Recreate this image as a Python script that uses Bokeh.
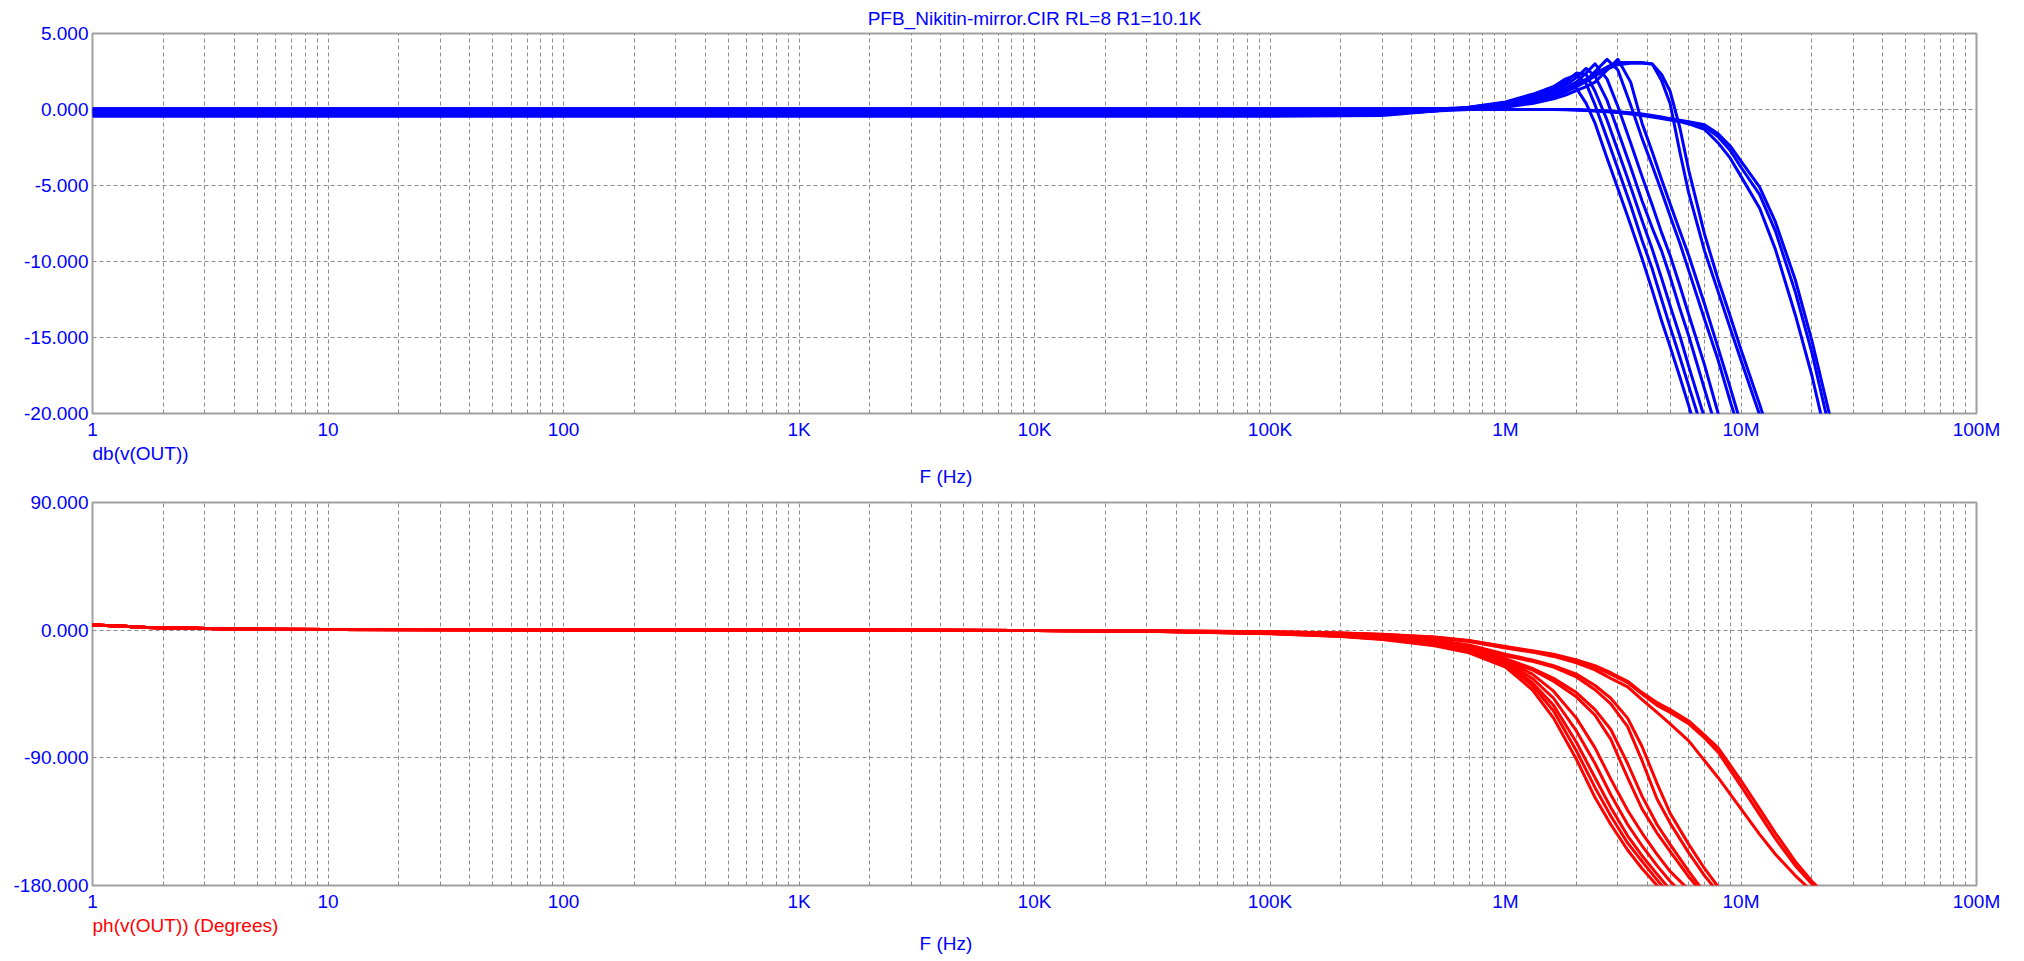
from bokeh.plotting import figure
from bokeh.models import Range1d, FixedTicker, PrintfTickFormatter, Title
from bokeh.layouts import column
from bokeh.embed import file_html
from bokeh.resources import INLINE

# ---------------- data ----------------
TITLE = "PFB_Nikitin-mirror.CIR RL=8 R1=10.1K"
X_MAJOR = [1, 10, 100, 1000, 1e4, 1e5, 1e6, 1e7, 1e8]
X_LABELS = ["1", "10", "100", "1K", "10K", "100K", "1M", "10M", "100M"]
X_MINOR = [k * d for d in X_MAJOR[:-1] for k in range(2, 10)]
MAG_TICKS = [-20, -15, -10, -5, 0, 5]
PH_TICKS = [-180, -90, 0, 90]

FREQ_MAG = [1, 1e5, 3e5, 5e5, 7e5, 1e6, 1.3e6, 1.6e6, 1.8e6, 2e6, 2.2e6, 2.4e6, 2.7e6, 3e6,
            3.4e6, 3.8e6, 4.2e6, 4.6e6, 5e6, 5.5e6, 6e6, 7e6, 8e6, 9e6, 10e6, 12e6, 14e6, 17e6,
            20e6, 25e6]

MAG_1 = [-0.45, -0.45, -0.4, -0.1, 0.15, 0.5, 1.0, 1.5, 2.0, 1.4, 0.4, -0.9, -3.2, -5.2, -7.6,
         -9.8, -11.9, -13.9, -15.6, -17.6, -19.5, -23.0, -26.2, -29.0, -31.5, -36, -40, -45, -49, -55]
MAG_2 = [-0.35, -0.35, -0.3, -0.1, 0.15, 0.45, 0.95, 1.5, 2.0, 2.3, 1.7, 0.3, -1.9, -3.9, -6.3,
         -8.6, -10.5, -12.5, -14.3, -16.3, -18.2, -21.5, -24.5, -27, -29.5, -34, -38, -43, -47, -53]
MAG_3 = [-0.25, -0.25, -0.2, -0.05, 0.1, 0.4, 0.85, 1.35, 1.8, 2.4, 2.3, 1.2, -0.7, -2.7, -5.1,
         -7.3, -9.2, -11.1, -12.9, -14.9, -16.9, -20.3, -23.3, -26, -28.5, -33, -37, -42, -46, -52]
MAG_4 = [-0.15, -0.15, -0.1, 0.0, 0.1, 0.35, 0.75, 1.2, 1.6, 2.1, 2.7, 2.2, 0.6, -1.4, -3.8,
         -6.0, -7.8, -9.3, -11.0, -13.1, -14.9, -18.4, -21.4, -24, -26.5, -31, -35, -40, -44, -50]
MAG_5 = [-0.05, -0.05, 0.0, 0.05, 0.1, 0.3, 0.65, 1.05, 1.4, 1.8, 2.4, 3.0, 2.0, 0.2, -2.2,
         -4.4, -6.3, -8.1, -9.6, -11.6, -13.5, -16.8, -20.0, -22.7, -25, -30, -34, -39, -43, -49]
MAG_6 = [0.05, 0.05, 0.05, 0.05, 0.1, 0.25, 0.5, 0.85, 1.15, 1.5, 1.9, 2.5, 3.3, 2.6, 0.3,
         -1.9, -3.7, -5.4, -7.0, -8.8, -10.6, -13.8, -16.5, -19.2, -21.5, -26, -30, -35, -39, -45]
MAG_7 = [-0.3, -0.3, -0.25, -0.05, 0.05, 0.15, 0.4, 0.7, 0.95, 1.25, 1.5, 1.8, 2.6, 3.3, 1.8,
         -0.9, -2.8, -4.6, -6.2, -8.0, -9.6, -12.8, -15.7, -18.3, -20.7, -25, -29, -34, -38, -44]
MAG_8 = [-0.2, -0.2, -0.15, 0.0, 0.1, 0.3, 0.6, 1.0, 1.3, 1.65, 2.0, 2.35, 2.8, 3.1, 3.1,
         3.1, 3.0, 1.9, 0.4, -2.8, -5.5, -9.3, -12.0, -14.4, -16.5, -20.1, -23.4, -28, -32, -38]
MAG_9 = [0.0, 0.0, 0.0, 0.05, 0.1, 0.25, 0.5, 0.9, 1.2, 1.5, 1.85, 2.2, 2.65, 2.95, 3.05,
         3.05, 3.0, 2.3, 1.2, -1.2, -4.0, -8.2, -11.2, -13.6, -15.8, -19.4, -22.7, -27.3, -31.3, -37.3]
MAG_10 = [-0.4, -0.4, -0.3, -0.1, 0.0, 0.0, 0.0, 0.0, -0.02, -0.04, -0.07, -0.1, -0.15, -0.2, -0.3,
          -0.4, -0.5, -0.6, -0.7, -0.8, -0.95, -1.3, -2.2, -3.2, -4.4, -6.5, -9.2, -13.5, -17.5, -24]
MAG_11 = [-0.1, -0.1, -0.05, 0.0, 0.0, 0.0, 0.0, 0.0, 0.0, -0.02, -0.05, -0.08, -0.12, -0.18, -0.26,
          -0.35, -0.45, -0.55, -0.65, -0.75, -0.85, -1.1, -1.8, -2.7, -3.8, -5.6, -8.0, -12.0, -16.0, -22.5]
MAG_12 = [0.05, 0.05, 0.05, 0.05, 0.02, 0.0, 0.0, 0.0, 0.0, -0.02, -0.04, -0.07, -0.1, -0.15, -0.22,
          -0.3, -0.4, -0.5, -0.6, -0.7, -0.8, -1.0, -1.6, -2.4, -3.4, -5.1, -7.4, -11.2, -15.2, -21.5]

FREQ_PH = [1, 1.3, 1.7, 4.1, 10, 1e3, 1e4, 3e4, 1e5, 2e5, 3e5, 5e5, 7e5, 1e6, 1.3e6, 1.6e6, 2e6,
           2.4e6, 2.8e6, 3.3e6, 3.8e6, 4.4e6, 5e6, 6e6, 7e6, 8e6, 10e6, 12e6, 14e6, 17e6, 20e6, 25e6]
PH_LOW = [3.7, 3.0, 1.9, 0.8, 0.4, 0.1, -0.3]

PH_1 = PH_LOW + [-0.8, -2.5, -4.5, -6.5, -11, -16, -26, -42, -62, -91, -118, -137, -155, -168, -180,
                 -190, -200, -208, -214, -222, -228, -233, -240, -245, -250]
PH_2 = PH_LOW + [-0.8, -2.4, -4.3, -6.2, -10.5, -15, -24, -39, -57, -85, -111, -131, -150, -163, -176,
                 -187, -198, -206, -212, -220, -226, -231, -238, -243, -248]
PH_3 = PH_LOW + [-0.7, -2.3, -4.1, -6, -10, -14.5, -23, -37, -53, -79, -104, -125, -145, -159, -172,
                 -183, -195, -203, -210, -218, -224, -229, -236, -241, -246]
PH_4 = PH_LOW + [-0.7, -2.2, -4, -5.8, -9.5, -14, -22, -34, -48, -71, -94, -116, -137, -152, -166,
                 -177, -190, -200, -207, -216, -222, -227, -234, -239, -244]
PH_5 = PH_LOW + [-0.6, -2.1, -3.8, -5.5, -9, -13, -21, -31, -43, -62, -83, -105, -127, -143, -158,
                 -170, -183, -193, -200, -210, -217, -223, -230, -236, -242]
PH_6 = PH_LOW + [-0.6, -2.0, -3.6, -5.2, -8.5, -12, -21, -28, -36, -47, -60, -77, -104, -126, -143,
                 -156, -174, -187, -196, -207, -214, -220, -228, -234, -240]
PH_7 = PH_LOW + [-0.5, -1.9, -3.4, -5.0, -8, -11.5, -20, -27, -34, -44, -56, -70, -94, -117, -137,
                 -151, -170, -185, -195, -206, -213, -219, -227, -233, -239]
PH_8 = PH_LOW + [-0.5, -1.8, -3.2, -4.5, -7.5, -11, -18, -22, -26, -33, -42, -52, -68, -92, -119,
                 -136, -157, -173, -185, -200, -208, -215, -224, -230, -237]
PH_9 = PH_LOW + [-0.5, -1.7, -3.0, -4.3, -7, -10.5, -17, -21, -25, -31, -39, -48, -62, -82, -108,
                 -129, -151, -168, -181, -198, -206, -213, -222, -229, -236]
PH_10 = PH_LOW + [-0.4, -1.3, -2.2, -3.2, -5.5, -8, -12.5, -15.5, -18.5, -23, -28, -34, -40, -49, -58,
                  -66, -78, -92, -104, -126, -144, -158, -173, -184, -198]
PH_11 = PH_LOW + [-0.4, -1.2, -2.0, -3.0, -5, -7.5, -12, -15, -17.5, -22, -26, -31, -37, -45, -53,
                  -58, -66, -76, -86, -110, -130, -147, -166, -179, -195]
PH_12 = PH_LOW + [-0.4, -1.2, -2.0, -2.9, -4.8, -7.2, -11.5, -14.5, -17, -21, -25, -30, -36, -44, -51,
                  -56, -64, -74, -83, -106, -126, -143, -163, -177, -193]

MAG_SERIES = [MAG_1, MAG_2, MAG_3, MAG_4, MAG_5, MAG_6, MAG_7, MAG_8, MAG_9, MAG_10, MAG_11, MAG_12]
PH_SERIES = [PH_1, PH_2, PH_3, PH_4, PH_5, PH_6, PH_7, PH_8, PH_9, PH_10, PH_11, PH_12]

# ---------------- style ----------------
FONT = "Liberation Sans"
FS = "19px"
BLUE = "#0000ff"
RED = "#ff0000"
GRID = "#8c8c8c"
FRAME = "#a0a0a0"


def make_fig(height, top, bottom, yr, yticks, trace_label, trace_color, f_standoff):
    p = figure(width=2024, height=height, x_axis_type="log",
               x_range=Range1d(1, 1e8), y_range=Range1d(*yr),
               output_backend="svg", toolbar_location=None,
               min_border_left=92, min_border_right=48,
               min_border_top=top, min_border_bottom=bottom,
               background_fill_color="white", border_fill_color="white")
    p.outline_line_color = FRAME
    p.outline_line_width = 2

    p.xaxis.ticker = FixedTicker(ticks=X_MAJOR, minor_ticks=X_MINOR)
    p.xaxis.major_label_overrides = dict(zip(X_MAJOR, X_LABELS))
    p.yaxis.ticker = FixedTicker(ticks=yticks)
    p.yaxis.formatter = PrintfTickFormatter(format="%.3f")
    for ax in (p.xaxis, p.yaxis):
        ax.axis_line_color = None
        ax.major_tick_line_color = None
        ax.minor_tick_line_color = None
        ax.major_tick_out = 0
        ax.major_tick_in = 0
        ax.major_label_text_font = FONT
        ax.major_label_text_font_size = FS
        ax.major_label_text_color = BLUE
    p.xaxis.major_label_standoff = 1
    p.yaxis.major_label_standoff = 4

    p.xgrid.grid_line_color = GRID
    p.xgrid.grid_line_dash = "4 3"
    p.xgrid.minor_grid_line_color = GRID
    p.xgrid.minor_grid_line_dash = "4 3"
    p.ygrid.grid_line_color = GRID
    p.ygrid.grid_line_dash = "4 3"

    t1 = Title(text=trace_label, align="left", offset=0, standoff=0,
               vertical_align="top",
               text_font=FONT, text_font_size=FS, text_color=trace_color,
               text_font_style="normal")
    p.add_layout(t1, "below")
    t2 = Title(text="F (Hz)", align="left", offset=827, standoff=f_standoff,
               vertical_align="top",
               text_font=FONT, text_font_size=FS, text_color=BLUE,
               text_font_style="normal")
    p.add_layout(t2, "below")
    return p


p1 = make_fig(488, 33, 73, (-20, 5), MAG_TICKS, "db(v(OUT))", BLUE, 0)
p1.title.text = TITLE
p1.title.align = "center"
p1.title.text_font = FONT
p1.title.text_font_size = FS
p1.title.text_font_style = "normal"
p1.title.text_color = BLUE
p1.title.standoff = 10
for ys in MAG_SERIES:
    p1.line(FREQ_MAG, ys, line_color=BLUE, line_width=3, line_join="round")

p2 = make_fig(472, 14, 75, (-180, 90), PH_TICKS, "ph(v(OUT)) (Degrees)", RED, -10)
for ys in PH_SERIES:
    p2.line(FREQ_PH, ys, line_color=RED, line_width=3, line_join="round")

layout = column(p1, p2, spacing=0)
open("out.html", "w").write(file_html(layout, INLINE))
